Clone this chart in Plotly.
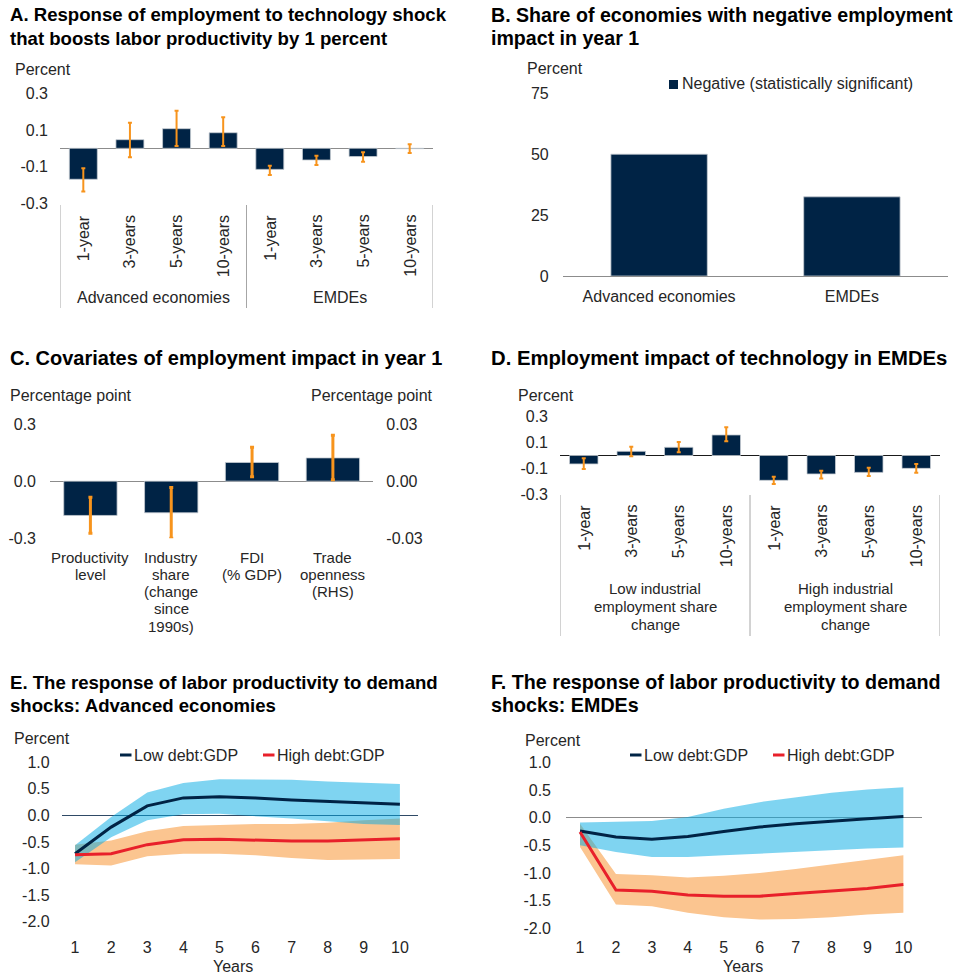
import plotly.graph_objects as go

W, H = 964, 975
NAVY = "#002345"
ORANGE = "#F7941D"
RED = "#E8202A"
TXT = "#262626"
FONT = "Liberation Sans, Arial, sans-serif"

# ---- Panel A: employment response to a technology shock ----
horizons = ["1-year", "3-years", "5-years", "10-years"]
a_groups = ["Advanced economies", "EMDEs"]
a_adv = [-0.169, 0.047, 0.107, 0.085]
a_adv_lo = [-0.236, -0.049, 0.013, 0.013]
a_adv_hi = [-0.109, 0.140, 0.205, 0.169]
a_emde = [-0.115, -0.064, -0.045, -0.002]
a_emde_lo = [-0.146, -0.091, -0.073, -0.026]
a_emde_hi = [-0.095, -0.040, -0.022, 0.022]
a_ticks = [0.3, 0.1, -0.1, -0.3]

# ---- Panel B: share of economies with negative impact ----
b_cats = ["Advanced economies", "EMDEs"]
b_vals = [50, 32.5]
b_ticks = [75, 50, 25, 0]

# ---- Panel C: covariates of the year-1 impact ----
c_cats = [["Productivity", "level"],
          ["Industry", "share", "(change", "since", "1990s)"],
          ["FDI", "(% GDP)"],
          ["Trade", "openness", "(RHS)"]]
c_left = [-0.180, -0.166, 0.098]
c_left_lo = [-0.274, -0.300, 0.023]
c_left_hi = [-0.085, -0.033, 0.178]
c_right = [0.0122]
c_right_lo = [0.0007]
c_right_hi = [0.0241]
c_ticks_l = [0.3, 0.0, -0.3]
c_ticks_r = [0.03, 0.0, -0.03]

# ---- Panel D: EMDEs by industrial employment share change ----
d_groups = [["Low industrial", "employment share", "change"],
            ["High industrial", "employment share", "change"]]
d_low = [-0.065, 0.032, 0.063, 0.158]
d_low_lo = [-0.104, -0.006, 0.025, 0.109]
d_low_hi = [-0.022, 0.068, 0.104, 0.217]
d_high = [-0.191, -0.142, -0.130, -0.099]
d_high_lo = [-0.219, -0.176, -0.158, -0.132]
d_high_hi = [-0.163, -0.117, -0.094, -0.065]
d_ticks = [0.3, 0.1, -0.1, -0.3]

# ---- Panels E and F: productivity response to demand shocks ----
years = list(range(1, 11))
e_low = [-0.72, -0.22, 0.18, 0.33, 0.35, 0.33, 0.29, 0.26, 0.23, 0.21]
e_low_up = [-0.56, -0.03, 0.43, 0.61, 0.68, 0.68, 0.67, 0.64, 0.62, 0.59]
e_low_dn = [-0.88, -0.41, -0.09, 0.02, 0.03, -0.01, -0.06, -0.11, -0.16, -0.18]
e_high = [-0.74, -0.72, -0.55, -0.46, -0.45, -0.47, -0.48, -0.48, -0.46, -0.44]
e_high_up = [-0.55, -0.47, -0.30, -0.20, -0.18, -0.16, -0.16, -0.14, -0.09, -0.06]
e_high_dn = [-0.92, -0.94, -0.77, -0.72, -0.72, -0.75, -0.80, -0.84, -0.83, -0.82]

f_low = [-0.24, -0.35, -0.39, -0.34, -0.25, -0.17, -0.11, -0.06, -0.02, 0.02]
f_low_up = [-0.09, -0.07, -0.06, 0.01, 0.16, 0.28, 0.37, 0.45, 0.51, 0.55]
f_low_dn = [-0.50, -0.62, -0.71, -0.71, -0.68, -0.65, -0.61, -0.58, -0.56, -0.54]
f_high = [-0.26, -1.31, -1.33, -1.40, -1.42, -1.42, -1.37, -1.33, -1.28, -1.21]
f_high_up = [-0.11, -1.02, -1.04, -1.08, -1.05, -1.00, -0.93, -0.85, -0.77, -0.68]
f_high_dn = [-0.53, -1.57, -1.60, -1.72, -1.80, -1.84, -1.83, -1.80, -1.75, -1.72]
ef_ticks = [1.0, 0.5, 0.0, -0.5, -1.0, -1.5, -2.0]
series_names = ["Low debt:GDP", "High debt:GDP"]


def px(x):
    return x / W


def py(y):
    return 1 - y / H


def dom_x(x0, x1):
    return [x0 / W, x1 / W]


def dom_y(top, bottom):
    return [1 - bottom / H, 1 - top / H]


def fmt(v, nd):
    return f"{v:.{nd}f}"


def err(vals, lo, hi):
    return dict(type="data", symmetric=False,
                array=[h - v for v, h in zip(vals, hi)],
                arrayminus=[v - l for v, l in zip(vals, lo)])


fig = go.Figure()
annotations = []
shapes = []


def text(t, x, y, size=16, xa="left", ya="middle", bold=False, xref="paper",
         yref="paper", angle=0, color=TXT):
    annotations.append(dict(
        text=f"<b>{t}</b>" if bold else t,
        x=px(x) if xref == "paper" else x,
        y=py(y) if yref == "paper" else y,
        xref=xref, yref=yref, xanchor=xa, yanchor=ya, showarrow=False,
        textangle=angle, font=dict(family=FONT, size=size, color=color)))


def yaxis_common(ticks, nd, rng, domain, standoff, zc="#8c8c8c", side="left"):
    return dict(domain=domain, range=rng, tickvals=ticks,
                ticktext=[fmt(t, nd) for t in ticks], ticks="",
                showgrid=False, showline=False, zeroline=True,
                zerolinecolor=zc, zerolinewidth=1, side=side,
                ticklabelstandoff=standoff,
                tickfont=dict(family=FONT, size=16, color=TXT))


err_style = dict(color=ORANGE, thickness=2, width=2)
bar_line = dict(color="#c5cbd2", width=0.8)

# ---------------- Panel A ----------------
a_vals = a_adv + a_emde
fig.add_trace(go.Bar(
    x=list(range(len(a_vals))), y=a_vals, xaxis="x", yaxis="y", width=0.6,
    marker=dict(color=NAVY, line=bar_line),
    error_y=dict(**err(a_vals, a_adv_lo + a_emde_lo, a_adv_hi + a_emde_hi), **err_style),
    showlegend=False))
for i, lab in enumerate(horizons * 2):
    text(lab, i, 213, xref="x", xa="center", ya="top", angle=-90)
for g, lab in enumerate(a_groups):
    text(lab, 4 * g + 1.5, 298, xref="x", xa="center")
for xb in (-0.5, 3.5, 7.5):
    shapes.append(dict(type="line", xref="x", yref="paper", x0=xb, x1=xb,
                       y0=py(205), y1=py(308), line=dict(color="#a6a6a6", width=1)))

# ---------------- Panel B ----------------
fig.add_trace(go.Bar(
    x=b_cats, y=b_vals, xaxis="x2", yaxis="y2", width=0.5,
    marker=dict(color=NAVY, line=bar_line), showlegend=False))
shapes.append(dict(type="rect", xref="paper", yref="paper", x0=px(669), x1=px(678),
                   y0=py(89), y1=py(80), fillcolor=NAVY, line=dict(width=0)))
text("Negative (statistically significant)", 680, 84)

# ---------------- Panel C ----------------
fig.add_trace(go.Bar(
    x=list(range(len(c_left))), y=c_left, xaxis="x3", yaxis="y3", width=0.66,
    marker=dict(color=NAVY, line=bar_line),
    error_y=dict(**err(c_left, c_left_lo, c_left_hi), color=ORANGE, thickness=3, width=2),
    showlegend=False))
fig.add_trace(go.Bar(
    x=[len(c_left) + i for i in range(len(c_right))], y=c_right, xaxis="x3", yaxis="y7",
    width=0.66, marker=dict(color=NAVY, line=bar_line),
    error_y=dict(**err(c_right, c_right_lo, c_right_hi), color=ORANGE, thickness=3, width=2),
    showlegend=False))
for i, lines in enumerate(c_cats):
    for k, ln in enumerate(lines):
        text(ln, i, 557 + 17.3 * k, size=15, xref="x3", xa="center")

# ---------------- Panel D ----------------
d_vals = d_low + d_high
fig.add_trace(go.Bar(
    x=list(range(len(d_vals))), y=d_vals, xaxis="x4", yaxis="y4", width=0.6,
    marker=dict(color=NAVY, line=bar_line),
    error_y=dict(**err(d_vals, d_low_lo + d_high_lo, d_low_hi + d_high_hi), **err_style),
    showlegend=False))
for i, lab in enumerate(horizons * 2):
    text(lab, i, 503, xref="x4", xa="center", ya="top", angle=-90)
for g, lines in enumerate(d_groups):
    for k, ln in enumerate(lines):
        text(ln, 4 * g + 1.5, 588.3 + 18.3 * k, size=15, xref="x4", xa="center")
for xb in (-0.5, 3.5, 7.5):
    shapes.append(dict(type="line", xref="x4", yref="paper", x0=xb, x1=xb,
                       y0=py(495), y1=py(636), line=dict(color="#a6a6a6", width=1)))


# ---------------- Panels E and F ----------------
def band_panel(xa, ya, low, low_up, low_dn, high, high_up, high_dn):
    fig.add_trace(go.Scatter(x=years, y=high_dn, xaxis=xa, yaxis=ya, mode="lines",
                             line=dict(width=0), showlegend=False, hoverinfo="skip"))
    fig.add_trace(go.Scatter(x=years, y=high_up, xaxis=xa, yaxis=ya, mode="lines",
                             line=dict(width=0), fill="tonexty",
                             fillcolor="rgb(251,197,144)", showlegend=False, hoverinfo="skip"))
    fig.add_trace(go.Scatter(x=years, y=low_dn, xaxis=xa, yaxis=ya, mode="lines",
                             line=dict(width=0), showlegend=False, hoverinfo="skip"))
    fig.add_trace(go.Scatter(x=years, y=low_up, xaxis=xa, yaxis=ya, mode="lines",
                             line=dict(width=0), fill="tonexty",
                             fillcolor="rgba(0,170,228,0.5)", showlegend=False, hoverinfo="skip"))
    fig.add_trace(go.Scatter(x=years, y=low, xaxis=xa, yaxis=ya, mode="lines",
                             line=dict(color=NAVY, width=3), name=series_names[0],
                             showlegend=False))
    fig.add_trace(go.Scatter(x=years, y=high, xaxis=xa, yaxis=ya, mode="lines",
                             line=dict(color=RED, width=3), name=series_names[1],
                             showlegend=False))


band_panel("x5", "y5", e_low, e_low_up, e_low_dn, e_high, e_high_up, e_high_dn)
band_panel("x6", "y6", f_low, f_low_up, f_low_dn, f_high, f_high_up, f_high_dn)


def line_legend(x_low, x_high, y):
    for xs, col, name in ((x_low, NAVY, series_names[0]), (x_high, RED, series_names[1])):
        shapes.append(dict(type="line", xref="paper", yref="paper", x0=px(xs), x1=px(xs + 11.5),
                           y0=py(y), y1=py(y), line=dict(color=col, width=3)))
        text(name, xs + 11.5, y)


line_legend(120, 263, 755)
line_legend(630, 773, 755)
text("Years", 233, 966, xa="center")
text("Years", 743, 966, xa="center")

# ---------------- Titles and unit labels ----------------
titles = [
    (8, [15, 38.3], 18.6, ["A. Response of employment to technology shock",
                           "that boosts labor productivity by 1 percent"]),
    (489, [15, 38.3], 19.6, ["B. Share of economies with negative employment",
                             "impact in year 1"]),
    (8, [358], 20, ["C. Covariates of employment impact in year 1"]),
    (489, [358], 20.3, ["D. Employment impact of technology in EMDEs"]),
    (8, [682, 705], 18.6, ["E. The response of labor productivity to demand",
                           "shocks: Advanced economies"]),
    (489, [682, 705], 19.7, ["F. The response of labor productivity to demand",
                             "shocks: EMDEs"]),
]
for x0, ys, size, lines in titles:
    for yy, ln in zip(ys, lines):
        text(ln, x0, yy, size=size, bold=True, color="#000000")

text("Percent", 13, 70)
text("Percent", 525, 68)
text("Percentage point", 8, 396)
text("Percentage point", 309, 396)
text("Percent", 516, 396)
text("Percent", 12, 738)
text("Percent", 523, 740)

hidden_x = dict(showticklabels=False, ticks="", showgrid=False, zeroline=False, showline=False)

fig.update_layout(
    width=W, height=H, margin=dict(l=0, r=0, t=0, b=0, autoexpand=False),
    paper_bgcolor="white", plot_bgcolor="white", barmode="overlay",
    font=dict(family=FONT, size=16, color=TXT),
    xaxis=dict(domain=dom_x(60, 433), range=[-0.5, 7.5], **hidden_x),
    yaxis=yaxis_common(a_ticks, 1, [-0.3, 0.3], dom_y(93.3, 203.3), 11),
    xaxis2=dict(domain=dom_x(562.7, 948.3), range=[-0.5, 1.5], anchor="y2", ticks="",
                showgrid=False, zeroline=False, showline=True, linecolor="#8c8c8c",
                linewidth=1, ticklabelstandoff=6,
                tickfont=dict(family=FONT, size=16, color=TXT)),
    yaxis2=dict(yaxis_common(b_ticks, 0, [0, 75], dom_y(93.3, 276), 13), anchor="x2",
                zeroline=False),
    xaxis3=dict(domain=dom_x(50, 373.3), range=[-0.5, 3.5], anchor="y3", **hidden_x),
    yaxis3=dict(yaxis_common(c_ticks_l, 1, [-0.3, 0.3], dom_y(424, 538.3), 13), anchor="x3"),
    yaxis7=dict(yaxis_common(c_ticks_r, 2, [-0.03, 0.03], dom_y(424, 538.3), 12, side="right"),
                anchor="x3", overlaying="y3", zeroline=False),
    xaxis4=dict(domain=dom_x(560, 940), range=[-0.5, 7.5], anchor="y4", **hidden_x),
    yaxis4=dict(yaxis_common(d_ticks, 1, [-0.3, 0.3], dom_y(416.5, 494.5), 11, zc="#1a1a1a"),
                anchor="x4"),
    xaxis5=dict(domain=dom_x(61.7, 418.3), range=[0.63, 10.51], anchor="y5", tickvals=years,
                ticks="", showgrid=False, zeroline=False, showline=False,
                ticklabelstandoff=14, tickfont=dict(family=FONT, size=16, color=TXT)),
    yaxis5=dict(yaxis_common(ef_ticks, 1, [-2, 1], dom_y(762.3, 921.7), 11, zc="#2f4a66"),
                anchor="x5"),
    xaxis6=dict(domain=dom_x(566, 921.7), range=[0.61, 10.51], anchor="y6", tickvals=years,
                ticks="", showgrid=False, zeroline=False, showline=False,
                ticklabelstandoff=8, tickfont=dict(family=FONT, size=16, color=TXT)),
    yaxis6=dict(yaxis_common(ef_ticks, 1, [-2, 1], dom_y(762.3, 928.3), 14), anchor="x6"),
    annotations=annotations,
    shapes=shapes,
)

fig.write_html("out.html")
